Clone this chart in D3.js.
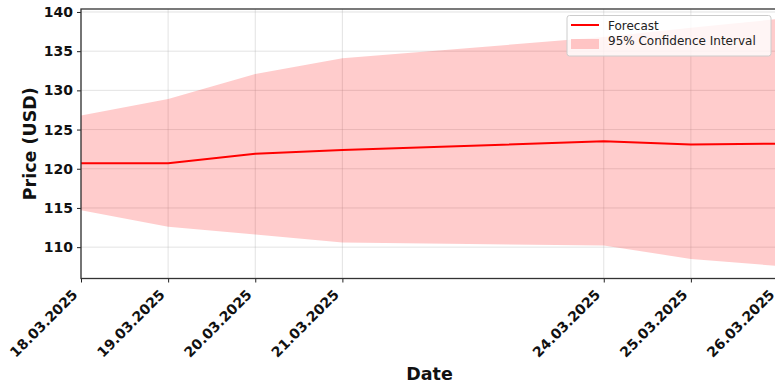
<!DOCTYPE html>
<html><head><meta charset="utf-8">
<script src="https://cdn.jsdelivr.net/npm/d3@7"></script>
<style>body{margin:0;background:#fff}svg{display:block}text{font-family:"DejaVu Sans",sans-serif}</style>
</head><body>
<svg id="c" width="775" height="385"></svg>
<script>
const dates = ["2025-03-18","2025-03-19","2025-03-20","2025-03-21","2025-03-24","2025-03-25","2025-03-26"];
const forecast = [120.7, 120.7, 121.9, 122.4, 123.5, 123.1, 123.2];
const upper = [126.8, 128.9, 132.1, 134.1, 136.8, 138.0, 139.1];
const lower = [114.7, 112.6, 111.6, 110.6, 110.2, 108.5, 107.6];
const yTicks = [110, 115, 120, 125, 130, 135, 140];
const legendLabels = ["Forecast", "95% Confidence Interval"];

const parse = d3.timeParse("%Y-%m-%d");
const fmt = d3.timeFormat("%d.%m.%Y");
const data = dates.map((d,i)=>({date:parse(d), f:forecast[i], hi:upper[i], lo:lower[i]}));

const svg = d3.select("#c");
const m = {l:81, t:9, r:778, b:278.5};
const x = d3.scaleTime().domain(d3.extent(data, d=>d.date)).range([m.l, m.r]);
const y = d3.scaleLinear().domain([106, 140.38]).range([m.b, m.t]);

svg.append("defs").append("clipPath").attr("id","pc")
  .append("rect").attr("x",m.l).attr("y",m.t).attr("width",m.r-m.l).attr("height",m.b-m.t);

// grid
const g = svg.append("g");
g.selectAll(".gx").data(data).join("line")
  .attr("x1",d=>x(d.date)).attr("x2",d=>x(d.date)).attr("y1",m.t).attr("y2",m.b)
  .attr("stroke","#b0b0b0").attr("stroke-opacity",0.35).attr("stroke-width",1);
g.selectAll(".gy").data(yTicks).join("line")
  .attr("x1",m.l).attr("x2",m.r).attr("y1",d=>y(d)).attr("y2",d=>y(d))
  .attr("stroke","#b0b0b0").attr("stroke-opacity",0.35).attr("stroke-width",1);

// band
const area = d3.area().x(d=>x(d.date)).y0(d=>y(d.lo)).y1(d=>y(d.hi));
svg.append("path").datum(data).attr("d",area).attr("fill","#ff0000").attr("fill-opacity",0.2)
  .attr("clip-path","url(#pc)");
// line
const line = d3.line().x(d=>x(d.date)).y(d=>y(d.f));
svg.append("path").datum(data).attr("d",line).attr("fill","none").attr("stroke","#ff0000")
  .attr("stroke-width",2).attr("clip-path","url(#pc)");

// axes
const xa = svg.append("g").attr("transform",`translate(0,${m.b})`)
  .call(d3.axisBottom(x).tickValues(data.map(d=>d.date)).tickFormat(fmt).tickSize(4).tickSizeOuter(0));
xa.select(".domain").remove();
xa.selectAll(".tick line").attr("stroke","#222");
xa.selectAll("text").attr("font-size","14px").attr("font-weight","bold").attr("fill","#111")
  .attr("text-anchor","end").attr("dy",null).attr("y",null)
  .attr("transform","translate(-3,17) rotate(-45)");

const ya = svg.append("g").attr("transform",`translate(${m.l},0)`)
  .call(d3.axisLeft(y).tickValues(yTicks).tickSize(4).tickPadding(4).tickSizeOuter(0));
ya.select(".domain").remove();
ya.selectAll(".tick line").attr("stroke","#222");
ya.selectAll("text").attr("font-size","14px").attr("font-weight","bold").attr("fill","#111");

// spines
svg.append("rect").attr("x",m.l).attr("y",m.t).attr("width",m.r-m.l).attr("height",m.b-m.t)
  .attr("fill","none").attr("stroke","#333").attr("stroke-width",1.3);

// labels
svg.append("text").attr("x",(m.l+m.r)/2).attr("y",380).attr("text-anchor","middle")
  .attr("font-size","17.5px").attr("font-weight","bold").attr("fill","#111").text("Date");
svg.append("text").attr("transform",`translate(36,${(m.t+m.b)/2}) rotate(-90)`).attr("text-anchor","middle")
  .attr("font-size","17.5px").attr("font-weight","bold").attr("fill","#111").text("Price (USD)");

// legend
const lg = svg.append("g");
lg.append("rect").attr("x",567).attr("y",15.5).attr("width",204).attr("height",40.5).attr("rx",2.5)
  .attr("fill","#fff").attr("fill-opacity",0.8).attr("stroke","#ccc").attr("stroke-width",1);
lg.append("line").attr("x1",571).attr("x2",599).attr("y1",25).attr("y2",25).attr("stroke","#ff0000").attr("stroke-width",2);
lg.append("rect").attr("x",571).attr("y",39).attr("width",28).attr("height",10).attr("fill","#ff0000").attr("fill-opacity",0.2);
lg.selectAll(".lt").data(legendLabels).join("text").attr("x",608).attr("y",(d,i)=>29.5+i*15)
  .attr("font-size","12px").attr("fill","#222").text(d=>d);
</script>
</body></html>
